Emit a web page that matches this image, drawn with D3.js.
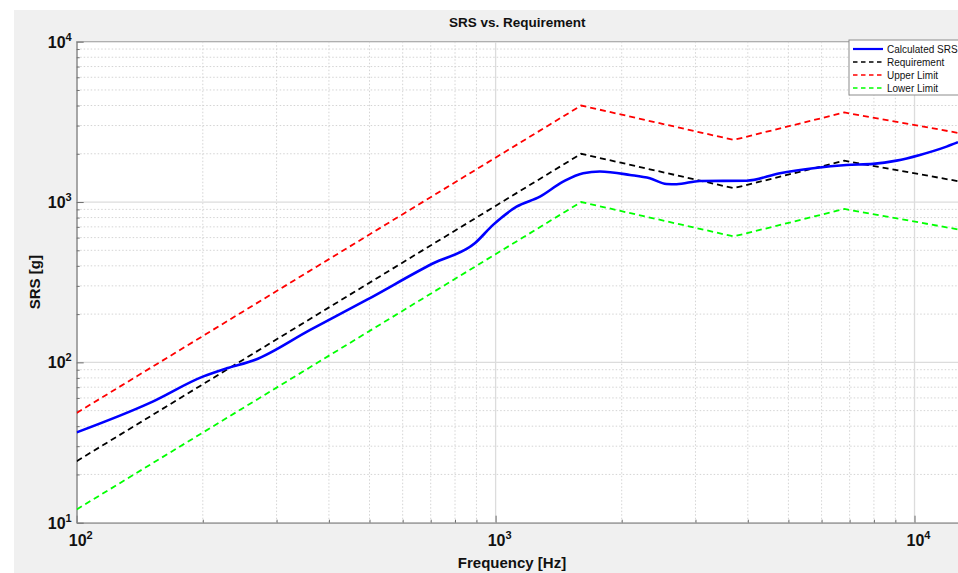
<!DOCTYPE html>
<html>
<head>
<meta charset="utf-8">
<script src="https://cdn.jsdelivr.net/npm/d3@7"></script>
<style>
  html, body { margin: 0; padding: 0; background: #ffffff; }
  svg { display: block; font-family: "Liberation Sans", Arial, Helvetica, sans-serif; }
</style>
</head>
<body>
<svg id="chart" width="958" height="573"></svg>
<script>
// Calculated shock response spectrum (frequency in Hz, SRS in g)
const srsFreq = [100, 150, 200, 228, 266, 360, 492, 710, 892, 986, 1122, 1276, 1449, 1618,
                 1774, 2093, 2334, 2558, 2704, 3073, 3972, 4770, 5729, 6881, 7962, 9059,
                 10300, 11925, 12700];
const srsValue = [36.6, 56.1, 81.5, 91.8, 103.5, 159, 245, 415, 553, 720, 935, 1081, 1340, 1514,
                  1549, 1476, 1406, 1297, 1292, 1354, 1358, 1514, 1626, 1703, 1729, 1812,
                  1967, 2216, 2361];

// Requirement breakpoints; limits are +/- 6 dB around it
const reqFreq = [100, 1600, 3700, 6800, 12700];
const reqValue = [24.2, 2000, 1220, 1810, 1350];
const upperValue = [48.4, 4000, 2440, 3620, 2700];
const lowerValue = [12.1, 1000, 610, 905, 675];

const xDomain = [100, 12700];
const yDomain = [10, 10000];
const xMajorTicks = [100, 1000, 10000];
const yMajorTicks = [10, 100, 1000, 10000];
const xTickLabels = ["2", "3", "4"];
const yTickLabels = ["1", "2", "3", "4"];

const seriesNames = ["Calculated SRS", "Requirement", "Upper Limit", "Lower Limit"];
const seriesColors = ["#0000ff", "#000000", "#ff0000", "#00ff00"];

const svg = d3.select("#chart");
const W = 958, H = 573;
const m = { left: 76.7, top: 41.7, bottom: 522.7, right: 958 };

// figure background
svg.append("rect").attr("x", 14).attr("y", 10).attr("width", W - 14).attr("height", H - 10)
  .attr("fill", "#f0f0f0");

const x = d3.scaleLog().domain(xDomain).range([m.left, m.right]);
const y = d3.scaleLog().domain(yDomain).range([m.bottom, m.top]);

// plot area
svg.append("rect").attr("x", m.left).attr("y", m.top)
  .attr("width", m.right - m.left + 5).attr("height", m.bottom - m.top)
  .attr("fill", "#ffffff").attr("stroke", "#8c8c8c").attr("stroke-width", 1);

svg.append("defs").append("clipPath").attr("id", "plotClip")
  .append("rect").attr("x", m.left).attr("y", m.top)
  .attr("width", m.right - m.left + 5).attr("height", m.bottom - m.top);

// minor / major tick values
function logTicks(lo, hi) {
  const out = [];
  for (let d = lo; d < hi; d *= 10) for (let k = 1; k < 10; k++) out.push(d * k);
  return out;
}
const xAll = logTicks(100, 100000).filter(v => v >= xDomain[0] && v <= xDomain[1]);
const yAll = logTicks(10, 10000).concat([10000]);
const xMinor = xAll.filter(v => !xMajorTicks.includes(v));
const yMinor = yAll.filter(v => !yMajorTicks.includes(v));

const grid = svg.append("g").attr("clip-path", "url(#plotClip)");
// minor grid (dotted)
grid.selectAll(".xmin").data(xMinor).join("line")
  .attr("x1", d => x(d)).attr("x2", d => x(d)).attr("y1", m.top).attr("y2", m.bottom)
  .attr("stroke", "#d4d4d4").attr("stroke-width", 1).attr("stroke-dasharray", "1.5,2");
grid.selectAll(".ymin").data(yMinor).join("line")
  .attr("x1", m.left).attr("x2", m.right).attr("y1", d => y(d)).attr("y2", d => y(d))
  .attr("stroke", "#d4d4d4").attr("stroke-width", 1).attr("stroke-dasharray", "1.5,2");
// major grid (solid)
grid.selectAll(".xmaj").data(xMajorTicks).join("line")
  .attr("x1", d => x(d)).attr("x2", d => x(d)).attr("y1", m.top).attr("y2", m.bottom)
  .attr("stroke", "#dcdcdc").attr("stroke-width", 1.3);
grid.selectAll(".ymaj").data(yMajorTicks).join("line")
  .attr("x1", m.left).attr("x2", m.right).attr("y1", d => y(d)).attr("y2", d => y(d))
  .attr("stroke", "#dcdcdc").attr("stroke-width", 1.3);

// axes with inward ticks
const xAxis = d3.axisBottom(x).tickValues(xAll).tickSizeInner(-3).tickSizeOuter(0).tickFormat("");
const gx = svg.append("g").attr("transform", `translate(0,${m.bottom})`).call(xAxis);
gx.selectAll(".tick line").attr("stroke", "#6e6e6e")
  .attr("y2", d => xMajorTicks.includes(d) ? -7 : -3);
gx.select(".domain").attr("stroke", "#8c8c8c");

const yAxis = d3.axisLeft(y).tickValues(yAll).tickSizeInner(-3).tickSizeOuter(0).tickFormat("");
const gy = svg.append("g").attr("transform", `translate(${m.left},0)`).call(yAxis);
gy.selectAll(".tick line").attr("stroke", "#6e6e6e")
  .attr("x2", d => yMajorTicks.includes(d) ? 7 : 3);
gy.select(".domain").attr("stroke", "#8c8c8c");

// tick labels: 10^n
function powerLabel(g, px, py, exp, anchor) {
  const t = g.append("text").attr("x", px).attr("y", py).attr("text-anchor", anchor)
    .attr("font-size", 16).attr("font-weight", "bold").attr("fill", "#111");
  t.append("tspan").text("10");
  t.append("tspan").attr("dy", -7).attr("font-size", 11).text(exp);
}
const labels = svg.append("g");
xMajorTicks.forEach((v, i) => powerLabel(labels, x(v) + 4, m.bottom + 23, xTickLabels[i], "middle"));
yMajorTicks.forEach((v, i) => powerLabel(labels, m.left - 5, y(v) + 6, yTickLabels[i], "end"));

// titles
svg.append("text").attr("x", (m.left + m.right) / 2).attr("y", 27).attr("text-anchor", "middle")
  .attr("font-size", 13.5).attr("font-weight", "bold").attr("fill", "#111").text("SRS vs. Requirement");
svg.append("text").attr("x", 512).attr("y", 568).attr("text-anchor", "middle")
  .attr("font-size", 15).attr("font-weight", "bold").attr("fill", "#111").text("Frequency  [Hz]");
svg.append("text").attr("transform", `translate(40,${(m.top + m.bottom) / 2}) rotate(-90)`)
  .attr("text-anchor", "middle").attr("font-size", 15).attr("font-weight", "bold")
  .attr("fill", "#111").text("SRS [g]");

// series
const line = d3.line().x(d => x(d[0])).y(d => y(d[1]));
const plot = svg.append("g").attr("clip-path", "url(#plotClip)");
const series = [
  { f: reqFreq, v: lowerValue, color: seriesColors[3], dash: "6,4", w: 1.8 },
  { f: reqFreq, v: upperValue, color: seriesColors[2], dash: "6,4", w: 1.8 },
  { f: reqFreq, v: reqValue, color: seriesColors[1], dash: "6,4", w: 1.8 },
  { f: srsFreq, v: srsValue, color: seriesColors[0], dash: null, w: 2.6 }
];
series.forEach(s => {
  plot.append("path").datum(s.f.map((f, i) => [f, s.v[i]]))
    .attr("d", line.curve(s.dash ? d3.curveLinear : d3.curveMonotoneX))
    .attr("fill", "none").attr("stroke", s.color).attr("stroke-width", s.w)
    .attr("stroke-dasharray", s.dash);
});

// legend
const lg = svg.append("g").attr("transform", "translate(849,40)");
lg.append("rect").attr("width", 115).attr("height", 55)
  .attr("fill", "#ffffff").attr("stroke", "#8c8c8c").attr("stroke-width", 1);
seriesNames.forEach((name, i) => {
  const yy = 9 + i * 13;
  lg.append("line").attr("x1", 4).attr("x2", 34).attr("y1", yy).attr("y2", yy)
    .attr("stroke", seriesColors[i]).attr("stroke-width", i === 0 ? 2.2 : 1.6)
    .attr("stroke-dasharray", i === 0 ? null : "4.5,3.5");
  lg.append("text").attr("x", 38).attr("y", yy + 3.5).attr("font-size", 10)
    .attr("fill", "#111").text(name);
});
</script>
</body>
</html>
